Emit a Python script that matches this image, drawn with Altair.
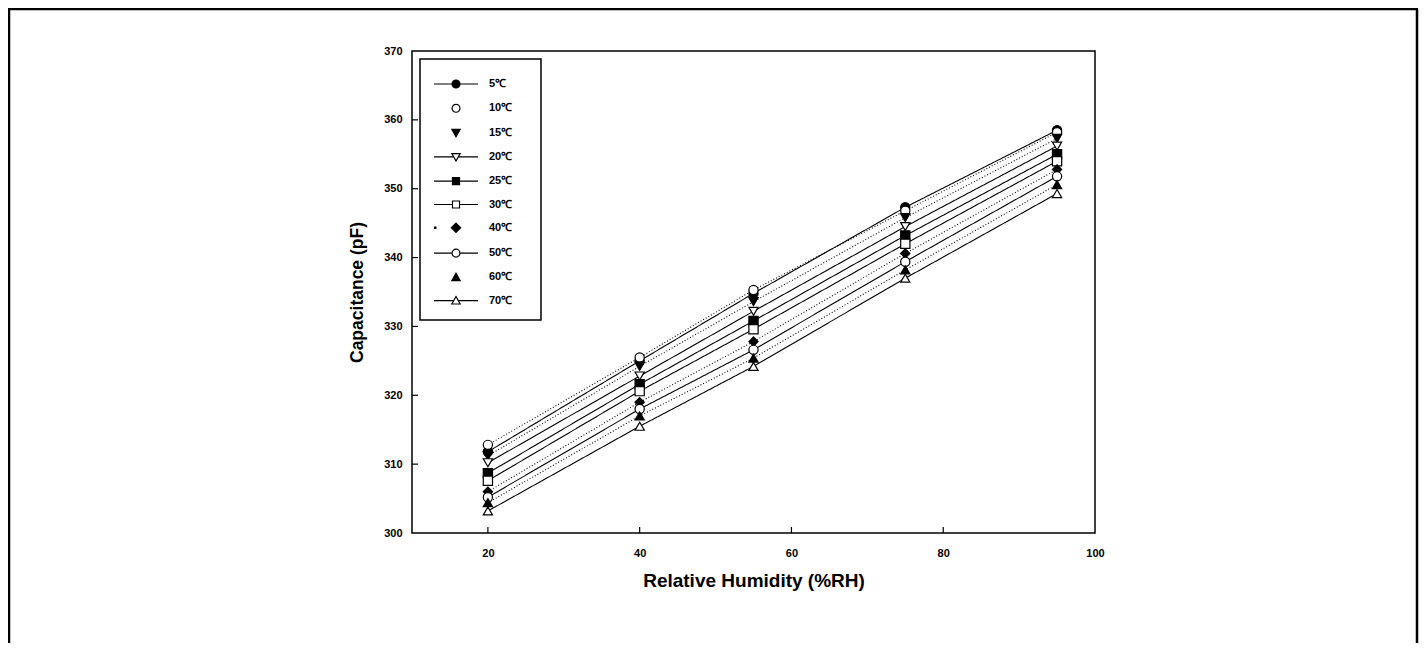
import altair as alt
import pandas as pd

# ---- data ----
rh = [20, 40, 55, 75, 95]
series = ["5℃", "10℃", "15℃", "20℃", "25℃", "30℃", "40℃", "50℃", "60℃", "70℃"]
c5 = [311.8, 325.0, 334.8, 347.3, 358.5]
c10 = [312.8, 325.5, 335.3, 346.8, 358.2]
c15 = [311.2, 324.2, 333.6, 345.8, 357.3]
c20 = [310.2, 322.8, 332.2, 344.5, 356.2]
c25 = [308.7, 321.6, 330.8, 343.2, 355.0]
c30 = [307.6, 320.6, 329.6, 342.0, 354.0]
c40 = [306.0, 319.0, 327.8, 340.6, 352.8]
c50 = [305.2, 318.0, 326.6, 339.4, 351.8]
c60 = [304.4, 317.0, 325.4, 338.2, 350.6]
c70 = [303.2, 315.5, 324.2, 337.0, 349.3]
values = [c5, c10, c15, c20, c25, c30, c40, c50, c60, c70]

x_ticks = [20, 40, 60, 80, 100]
y_ticks = [300, 310, 320, 330, 340, 350, 360, 370]

# ---- styles ----
shapes = ["circle", "circle", "triangle-down", "triangle-down", "square",
          "square", "diamond", "circle", "triangle-up", "triangle-up"]
fills = ["black", "white", "black", "white", "black",
         "white", "black", "white", "black", "white"]
solid = [True, False, False, True, True, True, False, True, False, True]
dashes = [[1, 0] if s else [1, 2] for s in solid]

# legend symbols: marker centred at x=1 with a line segment for solid series
circle_p = "M1.36,0 A0.36,0.36 0 1,1 0.64,0 A0.36,0.36 0 1,1 1.36,0 Z"
tri_down_p = "M0.62,-0.3 L1.38,-0.3 L1,0.38 Z"
tri_up_p = "M0.62,0.3 L1.38,0.3 L1,-0.38 Z"
square_p = "M0.68,-0.32 H1.32 V0.32 H0.68 Z"
diamond_p = "M1,-0.42 L1.42,0 L1,0.42 L0.58,0 Z"
seg = {"circle": (0.64, 1.36), "triangle-down": (0.8, 1.2), "square": (0.68, 1.32),
       "diamond": (0.58, 1.42), "triangle-up": (0.75, 1.25)}
body = {"circle": circle_p, "triangle-down": tri_down_p, "square": square_p,
        "diamond": diamond_p, "triangle-up": tri_up_p}
legend_paths = []
for i, sh in enumerate(shapes):
    p = body[sh]
    if solid[i]:
        a, b = seg[sh]
        p = f"M-1,0 H{a} M{b},0 H3 " + p
    elif series[i] == "40℃":
        p = "M-0.95,-0.06 H-0.83 V0.06 H-0.95 Z " + p
    legend_paths.append(p)

rows = []
for s, vals in zip(series, values):
    for r, v in zip(rh, vals):
        rows.append({"rh": r, "cap": v, "series": s})
df = pd.DataFrame(rows)

FONT = "Liberation Sans"
xscale = alt.Scale(domain=[10, 100], nice=False, zero=False)
yscale = alt.Scale(domain=[300, 370], nice=False, zero=False)
xaxis = alt.Axis(values=x_ticks, title="Relative Humidity (%RH)", ticks=False,
                 domain=False, grid=False, labelFontSize=11, labelPadding=14,
                 labelFont=FONT, labelColor="black", labelFontWeight="bold",
                 titleFont=FONT, titleFontSize=19, titleFontWeight="bold",
                 titlePadding=13, titleColor="black", labelFlush=False)
yaxis = alt.Axis(values=y_ticks, title="Capacitance (pF)", ticks=False,
                 domain=False, grid=False, labelFontSize=11, labelPadding=10,
                 labelFont=FONT, labelColor="black", labelFontWeight="bold",
                 titleFont=FONT, titleFontSize=17.5, titleFontWeight="bold",
                 titlePadding=17, titleColor="black", labelFlush=False)
X = alt.X("rh:Q", scale=xscale, axis=xaxis)
Y = alt.Y("cap:Q", scale=yscale, axis=yaxis)

lines = alt.Chart(df).mark_line(color="black", strokeWidth=1.1).encode(
    x=X, y=Y,
    strokeDash=alt.StrokeDash("series:N", scale=alt.Scale(domain=series, range=dashes), legend=None),
)

points = alt.Chart(df).mark_point(filled=True, stroke="black", strokeWidth=1.2,
                                  size=85, opacity=1).encode(
    x=X, y=Y,
    shape=alt.Shape("series:N", scale=alt.Scale(domain=series, range=shapes), legend=None),
    fill=alt.Fill("series:N", scale=alt.Scale(domain=series, range=fills), legend=None),
)

xt = alt.Chart(pd.DataFrame({"rh": x_ticks[:-1]})).mark_rule(color="black", strokeWidth=1.2).encode(
    x=X, y=alt.value(482), y2=alt.value(476))
yt = alt.Chart(pd.DataFrame({"cap": y_ticks[1:-1]})).mark_rule(color="black", strokeWidth=1.2).encode(
    y=Y, x=alt.value(0), x2=alt.value(6))

one = pd.DataFrame({"k": [0]})
frame_l = alt.Chart(one).mark_rule(color="black", strokeWidth=2.5).encode(
    x=alt.value(-403), y=alt.value(-42), y2=alt.value(700))
frame_r = alt.Chart(one).mark_rule(color="black", strokeWidth=2.5).encode(
    x=alt.value(1005), y=alt.value(-42), y2=alt.value(700))
frame_t = alt.Chart(one).mark_rule(color="black", strokeWidth=2.5).encode(
    y=alt.value(-42), x=alt.value(-404), x2=alt.value(1006))

# the legend title is an invisible spacer that widens the box to the right
leg = alt.Legend(title="NN", titleOrient="right", titleColor="white",
                 titleFont=FONT, titleFontSize=11, titleFontWeight="bold", titlePadding=0,
                 orient="none", legendX=8, legendY=8, padding=13,
                 strokeColor="black", fillColor="white", symbolSize=484,
                 symbolStrokeColor="black", symbolStrokeWidth=1.2,
                 labelFont=FONT, labelFontSize=11, labelColor="black",
                 labelFontWeight="bold",
                 labelOffset=32, rowPadding=5.3)
legend_layer = alt.Chart(df).transform_filter("false").mark_point(
    filled=True, stroke="black", strokeWidth=1.2, opacity=1).encode(
    shape=alt.Shape("series:N", scale=alt.Scale(domain=series, range=legend_paths), legend=leg),
    fill=alt.Fill("series:N", scale=alt.Scale(domain=series, range=fills), legend=leg),
    stroke=alt.Stroke("series:N", scale=alt.Scale(domain=series, range=["black"] * len(series)), legend=leg),
)

chart = alt.layer(lines, points, xt, yt, frame_l, frame_r, frame_t, legend_layer).resolve_scale(
    shape="independent", fill="independent", strokeDash="independent", stroke="independent"
).properties(
    width=683, height=482,
    padding={"left": 404, "top": 43, "right": 324, "bottom": 110},
    autosize=alt.AutoSizeParams(type="none"),
).configure_view(stroke="black", strokeWidth=1.5).configure_legend(strokeWidth=1.5)

chart.save("out.html", embed_options={"renderer": "svg", "actions": False})
